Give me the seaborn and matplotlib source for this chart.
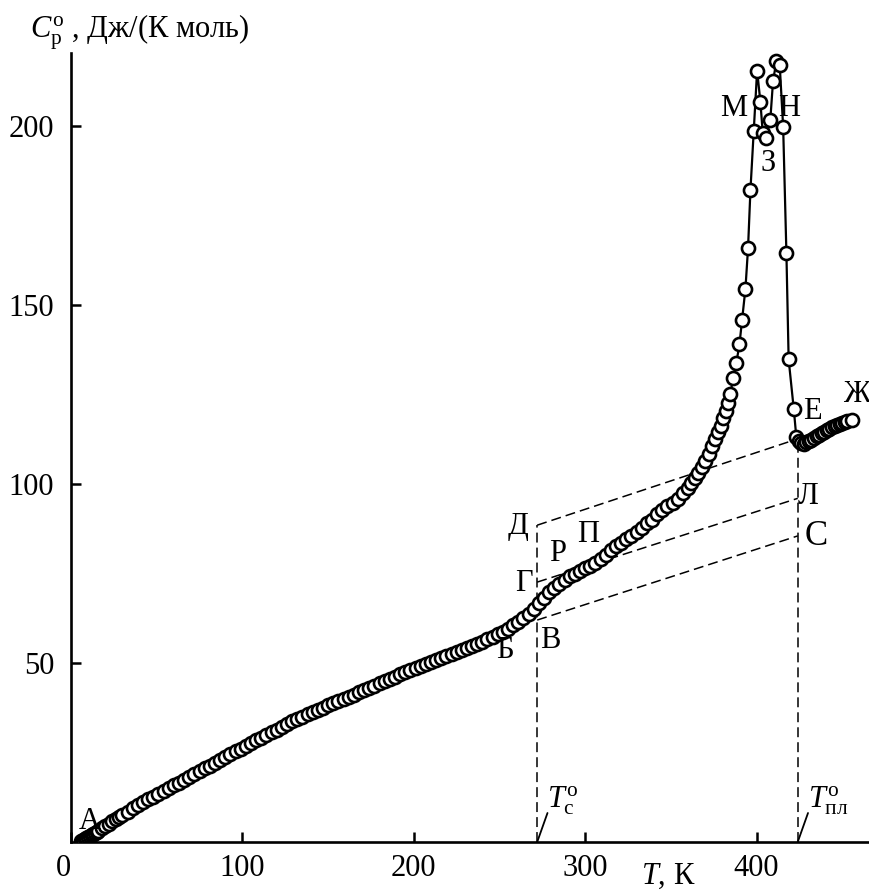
import numpy as np
import pandas as pd
import matplotlib
matplotlib.use("Agg")
import matplotlib.pyplot as plt
import seaborn as sns

# ---- data ----
T = [6, 7, 8, 9, 10, 11, 12, 13, 14, 15, 16, 18, 20, 22, 24, 26, 28, 30, 33, 36, 39, 42, 45, 48, 51, 54, 57, 60,
     63, 66, 69, 72, 75, 78, 81, 84, 87, 90, 93, 96, 99, 102, 105, 108, 111, 114, 117, 120, 123, 126, 129, 132,
     135, 138, 141, 144, 147, 150, 153, 156, 159, 162, 165, 168, 171, 174, 177, 180, 183, 186, 189, 192, 195,
     198, 201, 204, 207, 210, 213, 216, 219, 222, 225, 228, 231, 234, 237, 240, 243, 246, 249, 252, 255, 258,
     261, 264, 267, 270, 273, 276, 279, 282, 285, 288, 291, 294, 297, 300, 303, 306, 309, 312, 315, 318, 321,
     324, 327, 330, 333, 336, 339, 342, 345, 348, 351, 354, 357, 360, 362, 364, 366, 368, 370, 372, 374, 376,
     377.5, 379, 380.5, 382, 383.2, 384.7, 386.3, 388.2, 390, 391.5, 393.5, 395, 396.4, 398.3, 400.3, 402.2,
     403.6, 405.3, 408, 409.6, 411.6, 413.5, 415.5, 417.4, 418.7, 421.7, 423.2, 424.5, 426, 427.5, 429, 430.5,
     432, 433.5, 435, 436.5, 438, 439.5, 441, 442.5, 444, 445.5, 447, 448.5, 450, 451.5, 453, 455.5]
Cp = [0.4, 0.6, 0.8, 1.0, 1.3, 1.6, 1.9, 2.2, 2.5, 2.8, 3.1, 3.8, 4.5, 5.1, 5.8, 6.4, 7.0, 7.6, 8.5, 9.4, 10.3,
      11.1, 11.9, 12.7, 13.5, 14.2, 15.0, 15.8, 16.6, 17.4, 18.2, 19.0, 19.8, 20.6, 21.3, 22.1, 22.9, 23.7, 24.5,
      25.3, 26.0, 26.8, 27.6, 28.4, 29.1, 29.9, 30.7, 31.4, 32.2, 32.9, 33.7, 34.4, 35.0, 35.7, 36.3, 36.9, 37.5,
      38.2, 38.8, 39.4, 40.0, 40.6, 41.2, 41.8, 42.5, 43.1, 43.7, 44.3, 45.0, 45.6, 46.2, 46.9, 47.5, 48.0, 48.6,
      49.2, 49.7, 50.3, 50.8, 51.4, 51.9, 52.4, 53.0, 53.5, 54.1, 54.7, 55.3, 55.9, 56.6, 57.3, 58.0, 58.8, 59.6,
      60.5, 61.5, 62.6, 63.8, 65.2, 66.7, 68.2, 69.7, 71.0, 72.2, 73.3, 74.2, 75.0, 75.8, 76.5, 77.1, 77.9, 79.0,
      80.3, 81.6, 82.6, 83.6, 84.6, 85.6, 86.7, 87.7, 89.0, 90.0, 91.5, 92.8, 93.8, 94.8, 95.8, 97.5, 99.0, 100.3,
      101.8, 103.0, 104.8, 106.5, 108.5, 110.5, 112.5, 114.5, 116.3, 118.5, 120.5, 122.5, 125.2, 129.6, 133.9,
      139.0, 145.7, 154.6, 165.8, 182.0, 198.5, 215.5, 206.8, 198.0, 196.6, 201.7, 212.6, 218.2, 217.0, 199.7,
      164.4, 134.8, 120.9, 113.0, 112.0, 111.4, 111.3, 111.6, 112.0, 112.4, 112.8, 113.3, 113.7, 114.2, 114.6,
      115.0, 115.4, 115.8, 116.2, 116.5, 116.8, 117.1, 117.3, 117.5, 117.8]

T_glass = 272
T_melt = 424
Cp_D = [88.5, 112.3]   # Д -> Е construction line
Cp_G = [72.6, 96.0]    # Г -> Л
Cp_V = [62.0, 85.5]    # В -> С
Cp_top_melt = 112.3

xticks = [0, 100, 200, 300, 400]
yticks = [50, 100, 150, 200]

point_labels = ["А", "Б", "В", "Г", "Д", "Р", "П", "Л", "С", "Е", "Ж", "М", "Н", "З"]
label_T = [11, 253, 279.5, 264, 261, 284, 302, 430, 434.5, 432.5, 458.5, 386.5, 419, 407]
label_Cp = [5.6, 53.6, 56.4, 72.3, 88.0, 80.7, 85.8, 96.4, 85.2, 120.2, 124.9, 205, 205, 189.6]
label_size = [22, 22, 22, 22, 22, 22, 22, 22, 25, 22, 22, 22, 22, 22]

# ---- style ----
sns.set_style("ticks")
plt.rcParams["font.family"] = ["Liberation Serif", "DejaVu Serif"]
plt.rcParams["mathtext.fontset"] = "custom"
plt.rcParams["mathtext.rm"] = "Liberation Serif"
plt.rcParams["mathtext.it"] = "Liberation Serif:italic"
plt.rcParams["text.color"] = "black"
plt.rcParams["xtick.color"] = "black"
plt.rcParams["ytick.color"] = "black"

fig = plt.figure(figsize=(8.7, 8.9), dpi=100)
ax = fig.add_axes([71 / 870, 48 / 890, (868 - 71) / 870, (842 - 53) / 890])

dash = (0, (6.5, 3.3))
dkw = dict(color="black", lw=1.1, linestyle=dash, zorder=1)
ax.plot([T_glass, T_glass], [0, Cp_D[0]], **dkw)
ax.plot([T_melt, T_melt], [0, Cp_top_melt], **dkw)
ax.plot([T_glass, T_melt - 2], Cp_D, **dkw)
ax.plot([T_glass, T_melt], Cp_G, **dkw)
ax.plot([T_glass, T_melt], Cp_V, **dkw)

df = pd.DataFrame({"T": T, "Cp": Cp})
sns.lineplot(data=df, x="T", y="Cp", sort=False, estimator=None, ax=ax,
             color="black", linewidth=1.6, marker="o", markersize=9.4,
             markerfacecolor="white", markeredgecolor="black", markeredgewidth=1.9,
             zorder=3)

# small slanted marks for the temperature labels
ax.plot([T_glass, T_glass + 6], [0, 8.1], color="black", lw=1.3, zorder=2, clip_on=False)
ax.plot([T_melt, T_melt + 6], [0, 8.1], color="black", lw=1.3, zorder=2, clip_on=False)
ax.text(T_glass + 6, 11.5, r"$T_{\rm c}^{\rm o}$", fontsize=22, ha="left", va="center")
ax.text(T_melt + 6, 11.5, r"$T_{\rm пл}^{\rm o}$", fontsize=22, ha="left", va="center")

for s, tx, cy, fs in zip(point_labels, label_T, label_Cp, label_size):
    ax.text(tx, cy, s, fontsize=fs, ha="center", va="center", zorder=5)

ax.set_xlim(0, 465)
ax.set_ylim(0, 220.4)
ax.set_xticks(xticks)
ax.set_xticklabels([str(v) for v in xticks])
ax.set_yticks(yticks)
ax.set_yticklabels([str(v) for v in yticks])
ax.tick_params(direction="in", length=7, width=1.8, labelsize=22, colors="black")
ax.tick_params(axis="x", pad=9)
ax.tick_params(axis="y", pad=12)
ax.get_xticklabels()[0].set_ha("right")
for side in ["top", "right"]:
    ax.spines[side].set_visible(False)
for side in ["left", "bottom"]:
    ax.spines[side].set_linewidth(1.9)
    ax.spines[side].set_color("black")
ax.set_xlabel("")
ax.set_ylabel("")

fig.text(30 / 870, 1 - 32 / 890, r"$C_{\rm p}^{\rm o}$ , Дж/(К моль)", fontsize=22, ha="left", va="center")
fig.text(668 / 870, 1 - 876 / 890, r"$T$, К", fontsize=22, ha="center", va="center")

fig.savefig("out.png", dpi=100)
